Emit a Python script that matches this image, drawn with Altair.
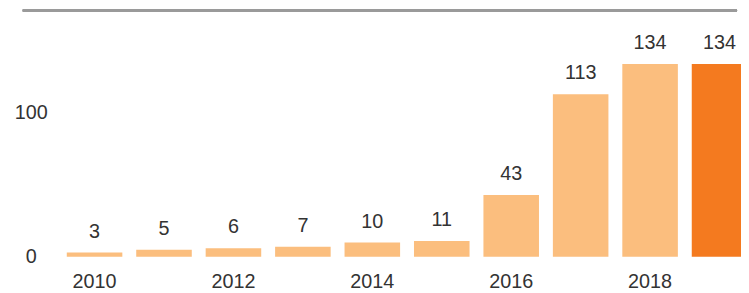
import altair as alt
import pandas as pd

years = ["2010", "2011", "2012", "2013", "2014", "2015", "2016", "2017", "2018", "2019"]
values = [3, 5, 6, 7, 10, 11, 43, 113, 134, 134]
highlight = [False] * 9 + [True]
x_tick_labels = ["2010", "2012", "2014", "2016", "2018"]
y_tick_values = [0, 100]

df = pd.DataFrame({"year": years, "value": values, "hl": highlight})

FONT = "Liberation Sans"
TXT = "#333333"

x_enc = alt.X(
    "year:O",
    sort=years,
    scale=alt.Scale(range=[7.4, 709.4], paddingInner=0.2, paddingOuter=0.1),
    axis=alt.Axis(
        title=None, values=x_tick_labels, labelAngle=0, domain=False, ticks=False,
        tickSize=0, labelPadding=25, labelBaseline="middle", labelFontSize=20,
        labelColor=TXT, labelFont=FONT, grid=False,
    ),
)
y_enc = alt.Y(
    "value:Q",
    scale=alt.Scale(domain=[0, 169], nice=False, zero=True),
    axis=alt.Axis(
        title=None, values=y_tick_values, domain=False, ticks=False, tickSize=0,
        grid=False, labelPadding=22, labelAlign="center", labelBaseline="middle",
        labelFontSize=20, labelColor=TXT, labelFont=FONT,
    ),
)

bars = alt.Chart(df).mark_bar().encode(
    x=x_enc,
    y=y_enc,
    color=alt.Color(
        "hl:N",
        scale=alt.Scale(domain=[False, True], range=["#FBBE7E", "#F47A1F"]),
        legend=None,
    ),
)

labels = alt.Chart(df).mark_text(
    dy=-21, baseline="middle", align="center", fontSize=20, font=FONT, color=TXT
).encode(x=x_enc, y=y_enc, text="value:Q")

top_rule = alt.Chart(df).mark_rule(color="#9a9a9a", strokeWidth=2).encode(
    x=alt.value(-30), x2=alt.value(692), y=alt.value(-3)
)

chart = (
    alt.layer(bars, labels, top_rule)
    .properties(
        width=696,
        height=246,
        background="white",
        autosize=alt.AutoSizeParams(type="none"),
        padding={"left": 45, "top": 4, "right": 0, "bottom": 35},
    )
    .configure_view(strokeWidth=0, stroke="transparent")
    .configure_axis(domain=False, ticks=False, grid=False)
)

chart.save("out.html", embed_options={"renderer": "svg", "actions": False})
